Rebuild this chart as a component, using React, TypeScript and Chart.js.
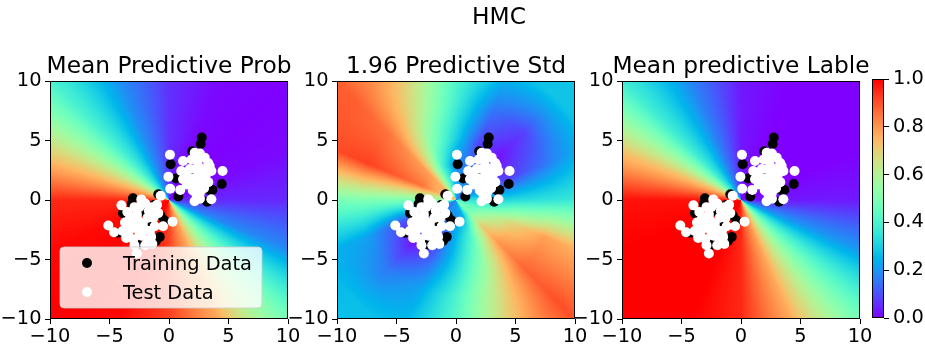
import React, { useEffect, useRef } from "react";
import { Chart, registerables } from "chart.js";

Chart.register(...registerables);

// ---------------- data ----------------
const SUPTITLE = "HMC";
const PANEL_TITLES = ["Mean Predictive Prob", "1.96 Predictive Std", "Mean predictive Lable"];
const LEGEND_LABELS = ["Training Data", "Test Data"];
const AXIS_TICKS = [-10, -5, 0, 5, 10];
const COLORBAR_TICKS = [0, 0.2, 0.4, 0.6, 0.8, 1.0];

const TRAIN_X = [2.75, 2.66, 1.95, 0.14, 1.6, 0.6, 0.78, 3.45, 3.65, 4.43, 3.2, 2.2, 2.6, 2.3, 3.1,
  -3.03, -1.26, -0.9, -3.87, -3.6, -4.3, -2.5, -1.1, -0.78, -0.4, -1.46, -3.14, -2.0, -1.5, -0.7];
const TRAIN_Y = [5.25, 4.7, 4.1, 3.0, 2.3, 1.8, 0.3, 0.8, 0.85, 1.35, -0.15, 2.3, 1.9, 3.4, 1.5,
  0.14, -0.42, 0.48, -1.1, -2.5, -2.75, -3.75, -3.45, -3.1, -1.7, -3.4, -0.34, -1.0, -1.9, -1.3];

const TEST_X = [0.08, -0.05, 0.1, 0.95, 1.18, 2.16, 3.0, 3.42, 4.5, 3.56, 1.03, 1.18, 2.3, 2.6, 3.56, 2.15, 2.5, 2.8, 2.25, 2.6, 1.75, 2.95, 2.0, 2.4, 3.1, 1.5, 2.6,
  1.9, 3.3, 2.9, 2.0, 2.6, 3.3, 1.5, 2.2,
  -5.1, -4.62, -4.0, -2.7, -3.42, -0.7, 0.3, -2.33, -2.9, -2.0, -1.4, -2.7, -3.3, -1.8, -2.2, -2.8, -1.6, -2.3, -1.2, -3.0, -1.8, -2.5, -0.9, -1.0, -3.7, -2.0, -1.4, -3.6,
  -3.5, -2.5, -1.7, -3.0, -2.0, -1.5, -3.3, -2.6, -1.3, -0.5, -3.9, -2.9];
const TEST_Y = [3.8, 1.95, 0.95, 0.85, 3.28, 3.97, 3.56, 2.86, 2.44, 2.44, 2.44, 1.74, 0.48, 0.1, 0.06, -0.1, 2.1, 1.6, 1.3, 2.7, 2.6, 1.0, 0.8, 3.3, 2.1, 2.0, 3.9,
  3.4, 3.1, 2.5, 1.8, 0.6, 1.5, 1.3, 2.6,
  -2.15, -2.7, -0.45, -4.5, -2.9, 0.36, -1.82, 0.05, -0.6, -0.3, -0.6, -1.2, -1.6, -1.5, -2.0, -2.3, -2.6, -3.0, -2.2, -3.3, -3.4, -2.7, -1.1, -0.4, -1.9, -3.8, -3.7, -3.2,
  -1.0, -0.6, -0.9, -2.0, -2.5, -3.1, -2.5, -1.7, -1.5, -2.2, -2.6, -3.8];

// background fields, read on rays from the origin (angle in degrees) at a few radii
const FIELD_ANGLES = [0, 22.5, 45, 67.5, 90, 112.5, 135, 157.5, 180, 202.5, 225, 247.5, 270, 292.5, 315, 337.5];

const PROB_RADII = [1];
const PROB_FIELD = [
  [0.05, 0.01, 0.0, 0.01, 0.06, 0.19, 0.4, 0.69, 0.95, 0.99, 1.0, 0.99, 0.92, 0.77, 0.48, 0.18],
];

const STD_RADII = [1.5, 3, 5, 8, 12];
const STD_FIELD = [
  [0.35, 0.2, 0.15, 0.2, 0.22, 0.45, 0.75, 0.75, 0.55, 0.2, 0.15, 0.2, 0.2, 0.25, 0.5, 0.45],
  [0.3, 0.1, 0.08, 0.15, 0.18, 0.4, 0.78, 0.85, 0.5, 0.1, 0.05, 0.1, 0.25, 0.4, 0.7, 0.55],
  [0.33, 0.08, 0.02, 0.08, 0.3, 0.5, 0.8, 0.88, 0.5, 0.1, 0.02, 0.12, 0.3, 0.5, 0.8, 0.68],
  [0.35, 0.15, 0.08, 0.15, 0.38, 0.62, 0.85, 0.92, 0.5, 0.22, 0.15, 0.22, 0.4, 0.62, 0.87, 0.78],
  [0.38, 0.27, 0.28, 0.28, 0.44, 0.72, 0.88, 0.9, 0.48, 0.25, 0.27, 0.27, 0.45, 0.72, 0.9, 0.75],
];

const LABEL_RADII = [1];
const LABEL_FIELD = [
  [0.03, 0.0, 0.0, 0.0, 0.03, 0.17, 0.38, 0.72, 0.98, 1.0, 1.0, 1.0, 0.95, 0.77, 0.48, 0.2],
];

// ---------------- helpers ----------------
const FONT = '"DejaVu Sans", "Liberation Sans", sans-serif';
const TICK_SIZE = 19.4;
const TITLE_SIZE = 23.3;
const LEGEND_SIZE = 19.4;

function rainbow(v: number): [number, number, number] {
  const x = Math.max(0, Math.min(1, v));
  const r = Math.min(1, Math.abs(2 * x - 0.5));
  const g = Math.sin(Math.PI * x);
  const b = Math.cos((Math.PI * x) / 2);
  return [Math.round(r * 255), Math.round(g * 255), Math.round(b * 255)];
}

function fieldValue(x: number, y: number, radii: number[], rows: number[][]): number {
  const n = FIELD_ANGLES.length;
  const step = 360 / n;
  let th = (Math.atan2(y, x) * 180) / Math.PI;
  if (th < 0) th += 360;
  const f = th / step;
  const k0 = Math.floor(f) % n;
  const k1 = (k0 + 1) % n;
  const t = f - Math.floor(f);
  const av = (row: number[]) => row[k0] * (1 - t) + row[k1] * t;
  if (rows.length === 1) return av(rows[0]);
  const r = Math.hypot(x, y);
  const last = radii.length - 1;
  if (r <= radii[0]) return av(rows[0]);
  if (r >= radii[last]) return av(rows[last]);
  let j = 0;
  while (j < last - 1 && r > radii[j + 1]) j++;
  const s = (r - radii[j]) / (radii[j + 1] - radii[j]);
  return av(rows[j]) * (1 - s) + av(rows[j + 1]) * s;
}

const fmtTick = (v: number) => (v < 0 ? "\u2212" + Math.abs(v) : String(v));

const heatmapPlugin = {
  id: "heatmap",
  beforeDatasetsDraw(chart: any, _args: any, opts: any) {
    if (!opts || !opts.rows) return;
    const { ctx, chartArea: a, scales } = chart;
    const w = Math.round(a.right - a.left);
    const h = Math.round(a.bottom - a.top);
    const off = document.createElement("canvas");
    off.width = w;
    off.height = h;
    const octx = off.getContext("2d")!;
    const img = octx.createImageData(w, h);
    for (let j = 0; j < h; j++) {
      const yv = scales.y.getValueForPixel(a.top + j + 0.5);
      for (let i = 0; i < w; i++) {
        const xv = scales.x.getValueForPixel(a.left + i + 0.5);
        const [r, g, b] = rainbow(fieldValue(xv, yv, opts.radii, opts.rows));
        const p = (j * w + i) * 4;
        img.data[p] = r;
        img.data[p + 1] = g;
        img.data[p + 2] = b;
        img.data[p + 3] = 255;
      }
    }
    octx.putImageData(img, 0, 0);
    ctx.drawImage(off, a.left, a.top);
  },
};

const decoPlugin = {
  id: "deco",
  afterDatasetsDraw(chart: any, _args: any, opts: any) {
    const { ctx, chartArea: a } = chart;
    ctx.save();
    ctx.strokeStyle = "#000";
    ctx.lineWidth = 1;
    ctx.strokeRect(a.left + 0.5, a.top + 0.5, a.right - a.left - 1, a.bottom - a.top - 1);
    if (opts.title) {
      ctx.fillStyle = "#000";
      ctx.font = `${TITLE_SIZE}px ${FONT}`;
      ctx.textAlign = "center";
      ctx.textBaseline = "alphabetic";
      ctx.fillText(opts.title, (a.left + a.right) / 2, a.top - 8);
    }
    if (opts.suptitle) {
      ctx.fillStyle = "#000";
      ctx.font = `${TITLE_SIZE}px ${FONT}`;
      ctx.textAlign = "center";
      ctx.textBaseline = "alphabetic";
      ctx.fillText(opts.suptitle, opts.suptitleX, 24);
    }
    if (opts.legend) {
      const lx = a.left + 10;
      const ly = a.bottom - 72;
      const lw = 202;
      const lh = 61;
      const rr = 4;
      ctx.beginPath();
      ctx.moveTo(lx + rr, ly);
      ctx.lineTo(lx + lw - rr, ly);
      ctx.quadraticCurveTo(lx + lw, ly, lx + lw, ly + rr);
      ctx.lineTo(lx + lw, ly + lh - rr);
      ctx.quadraticCurveTo(lx + lw, ly + lh, lx + lw - rr, ly + lh);
      ctx.lineTo(lx + rr, ly + lh);
      ctx.quadraticCurveTo(lx, ly + lh, lx, ly + lh - rr);
      ctx.lineTo(lx, ly + rr);
      ctx.quadraticCurveTo(lx, ly, lx + rr, ly);
      ctx.closePath();
      ctx.fillStyle = "rgba(255,255,255,0.8)";
      ctx.fill();
      ctx.strokeStyle = "rgba(204,204,204,0.8)";
      ctx.stroke();
      const colors = ["#000000", "#ffffff"];
      opts.legend.forEach((label: string, i: number) => {
        const cy = ly + 16 + i * 29;
        ctx.beginPath();
        ctx.arc(lx + 27, cy, 5, 0, Math.PI * 2);
        ctx.fillStyle = colors[i];
        ctx.fill();
        ctx.fillStyle = "#000";
        ctx.font = `${LEGEND_SIZE}px ${FONT}`;
        ctx.textAlign = "left";
        ctx.textBaseline = "alphabetic";
        ctx.fillText(label, lx + 63, cy + 7);
      });
    }
    ctx.restore();
  },
};

const colorbarPlugin = {
  id: "colorbar",
  beforeDatasetsDraw(chart: any) {
    const { ctx, chartArea: a, scales } = chart;
    for (let py = Math.floor(a.top); py < Math.ceil(a.bottom); py++) {
      const v = scales.y.getValueForPixel(py + 0.5);
      const [r, g, b] = rainbow(v);
      ctx.fillStyle = `rgb(${r},${g},${b})`;
      ctx.fillRect(a.left, py, a.right - a.left, 1);
    }
  },
};

const W = 925;
const H = 345;
const PANEL_LEFTS = [50, 337, 622];
const PANEL_W = 238;
const PANEL_TOP = 81;
const PANEL_BOTTOM = 319;
const Y_AXIS_W = 50;
const X_AXIS_H = 26;

function axisScale(axis: "x" | "y") {
  return {
    type: "linear",
    min: -10,
    max: 10,
    afterBuildTicks: (scale: any) => {
      scale.ticks = AXIS_TICKS.map((v) => ({ value: v }));
    },
    afterFit: (scale: any) => {
      if (axis === "y") scale.width = Y_AXIS_W;
      else scale.height = X_AXIS_H;
    },
    grid: { display: true, drawOnChartArea: false, drawTicks: true, tickLength: 5, color: "#000", tickWidth: 1 },
    border: { display: false },
    ticks: {
      color: "#000",
      font: { family: FONT, size: TICK_SIZE },
      padding: axis === "y" ? 3.5 : 1,
      maxRotation: 0,
      autoSkip: false,
      callback: (v: any) => fmtTick(Number(v)),
    },
  };
}

function panelConfig(idx: number): any {
  const fields = [
    { radii: PROB_RADII, rows: PROB_FIELD },
    { radii: STD_RADII, rows: STD_FIELD },
    { radii: LABEL_RADII, rows: LABEL_FIELD },
  ];
  const left = PANEL_LEFTS[idx];
  return {
    type: "scatter",
    data: {
      datasets: [
        {
          label: LEGEND_LABELS[0],
          data: TRAIN_X.map((x, i) => ({ x, y: TRAIN_Y[i] })),
          backgroundColor: "#000000",
          borderColor: "#000000",
          borderWidth: 0,
          pointRadius: 5,
          order: 1,
        },
        {
          label: LEGEND_LABELS[1],
          data: TEST_X.map((x, i) => ({ x, y: TEST_Y[i] })),
          backgroundColor: "#ffffff",
          borderColor: "#ffffff",
          borderWidth: 0,
          pointRadius: 5,
          order: 0,
        },
      ],
    },
    options: {
      responsive: false,
      animation: false,
      events: [],
      layout: {
        padding: {
          left: left - Y_AXIS_W,
          right: W - (left + PANEL_W),
          top: PANEL_TOP,
          bottom: H - PANEL_BOTTOM - X_AXIS_H,
        },
      },
      plugins: {
        legend: { display: false },
        tooltip: { enabled: false },
        title: { display: false },
        heatmap: fields[idx],
        deco: {
          title: PANEL_TITLES[idx],
          legend: idx === 0 ? LEGEND_LABELS : null,
          suptitle: idx === 1 ? SUPTITLE : null,
          suptitleX: 499,
        },
      },
      scales: { x: axisScale("x"), y: axisScale("y") },
    },
    plugins: [heatmapPlugin, decoPlugin],
  };
}

function colorbarConfig(): any {
  return {
    type: "scatter",
    data: { datasets: [] },
    options: {
      responsive: false,
      animation: false,
      events: [],
      layout: { padding: { left: 872, right: 0, top: 79, bottom: H - 318 } },
      plugins: { legend: { display: false }, tooltip: { enabled: false }, deco: {} },
      scales: {
        x: { type: "linear", display: false, min: 0, max: 1 },
        y: {
          type: "linear",
          position: "right",
          min: 0,
          max: 1,
          afterBuildTicks: (scale: any) => {
            scale.ticks = COLORBAR_TICKS.map((v) => ({ value: v }));
          },
          afterFit: (scale: any) => {
            scale.width = W - 884;
          },
          grid: { display: true, drawOnChartArea: false, drawTicks: true, tickLength: 5, color: "#000" },
          border: { display: false },
          ticks: {
            color: "#000",
            font: { family: FONT, size: TICK_SIZE },
            padding: 4,
            autoSkip: false,
            callback: (v: any) => Number(v).toFixed(1),
          },
        },
      },
    },
    plugins: [colorbarPlugin, decoPlugin],
  };
}

export default function App() {
  const r1 = useRef<HTMLCanvasElement>(null);
  const r2 = useRef<HTMLCanvasElement>(null);
  const r3 = useRef<HTMLCanvasElement>(null);
  const r4 = useRef<HTMLCanvasElement>(null);

  useEffect(() => {
    const charts = [
      new Chart(r1.current!, panelConfig(0)),
      new Chart(r2.current!, panelConfig(1)),
      new Chart(r3.current!, panelConfig(2)),
      new Chart(r4.current!, colorbarConfig()),
    ];
    return () => charts.forEach((c) => c.destroy());
  }, []);

  const cStyle: React.CSSProperties = { position: "absolute", left: 0, top: 0, width: W, height: H };
  return (
    <div style={{ position: "fixed", left: 0, top: 0, width: W, height: H, background: "#ffffff", overflow: "hidden" }}>
      <canvas ref={r1} width={W} height={H} style={cStyle} />
      <canvas ref={r2} width={W} height={H} style={cStyle} />
      <canvas ref={r3} width={W} height={H} style={cStyle} />
      <canvas ref={r4} width={W} height={H} style={cStyle} />
    </div>
  );
}
